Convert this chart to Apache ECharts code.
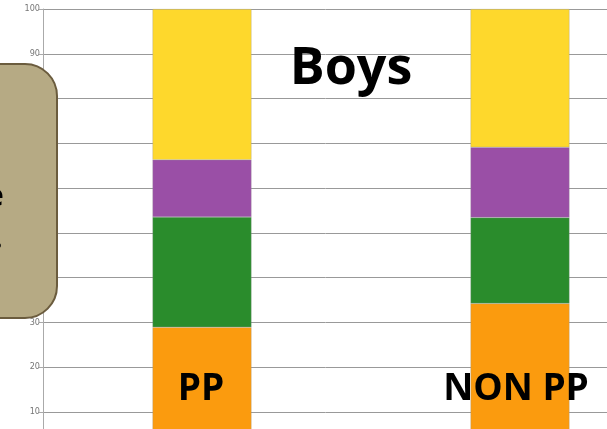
<!DOCTYPE html>
<html>
<head>
<meta charset="utf-8">
<script src="https://cdn.jsdelivr.net/npm/echarts@6/dist/echarts.min.js"></script>
<style>
	html, body { margin: 0; padding: 0; background: #fff; }
	#main { width: 607px; height: 429px; }
</style>
</head>
<body>
<div id="main"></div>
<script>
var categories = ['PP', 'NON PP'];
var orangeVals = [28.9, 34.2];
var greenVals = [24.6, 19.2];
var purpleVals = [12.8, 15.7];
var yellowVals = [33.7, 30.9];
var yTicks = [10, 20, 30, 40, 50, 60, 70, 80, 90, 100];

var chart = echarts.init(document.getElementById('main'));

function seg(name, vals, color) {
	return {
		name: name,
		type: 'bar',
		stack: 'all',
		barWidth: 99,
		data: vals,
		itemStyle: { color: color, borderColor: 'rgba(150,150,150,0.6)', borderWidth: 0.5 }
	};
}

chart.setOption({
	animation: false,
	grid: { left: 43, top: 9, width: 636, height: 447.5, containLabel: false, outerBoundsMode: 'none' },
	xAxis: {
		type: 'category',
		data: categories,
		axisLine: { show: false },
		axisTick: { show: false },
		axisLabel: { show: false }
	},
	yAxis: {
		type: 'value',
		min: 0,
		max: 100,
		interval: 10,
		axisLine: { show: true, lineStyle: { color: '#aaa', width: 1 } },
		axisTick: { show: true, length: 4, lineStyle: { color: '#aaa' } },
		axisLabel: {
			margin: 3,
			color: '#777',
			fontSize: 9,
			fontFamily: 'Liberation Sans Narrow, DejaVu Sans Condensed, sans-serif',
			formatter: function (v) { return yTicks.indexOf(v) >= 0 ? String(v) : ''; }
		},
		splitLine: { show: true, lineStyle: { color: '#999', width: 1 } }
	},
	series: [
		seg('orange', orangeVals, '#fb9b0e'),
		seg('green', greenVals, '#2a8c2c'),
		seg('purple', purpleVals, '#9a4fa6'),
		seg('yellow', yellowVals, '#fed82c')
	],
	graphic: [
		{
			type: 'rect',
			shape: { x: -60, y: 64, width: 117, height: 254, r: 32 },
			style: { fill: '#b6aa84', stroke: '#6b5c3e', lineWidth: 2 },
			z: 100
		},
		{
			type: 'text', left: -14, top: 182, z: 101,
			style: { text: 'e', fill: '#000', font: 'bold 30px "Open Sans", sans-serif' }
		},
		{
			type: 'text', left: -6, top: 224, z: 101,
			style: { text: '.', fill: '#000', font: 'bold 30px "Open Sans", sans-serif' }
		},
		{
			type: 'text', x: 351, y: 69, z: 101,
			style: { text: 'Boys', fill: '#000', font: 'bold 52px "Open Sans", sans-serif', textAlign: 'center', textVerticalAlign: 'middle' }
		},
		{
			type: 'text', x: 201, y: 389, z: 101,
			style: { text: 'PP', fill: '#000', font: 'bold 37px "Open Sans", sans-serif', textAlign: 'center', textVerticalAlign: 'middle' }
		},
		{
			type: 'text', x: 516, y: 389, z: 101,
			style: { text: 'NON PP', fill: '#000', font: 'bold 37px "Open Sans", sans-serif', textAlign: 'center', textVerticalAlign: 'middle' }
		}
	]
});
</script>
</body>
</html>
